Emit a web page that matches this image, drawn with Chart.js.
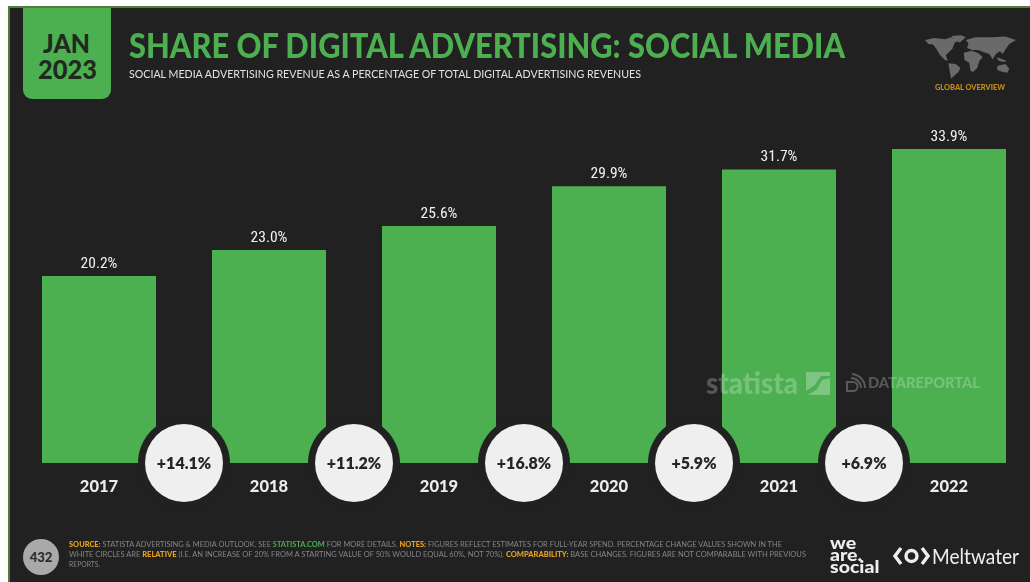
<!DOCTYPE html>
<html>
<head>
<meta charset="utf-8">
<script src="https://cdn.jsdelivr.net/npm/chart.js@4"></script>
<style>
  html, body { margin: 0; padding: 0; width: 1030px; height: 582px; overflow: hidden; background: #fff; }
  #panel { position: absolute; left: 8px; top: 6px; width: 1022px; height: 576px; box-sizing: border-box;
           background: #212121; border-top: 2px solid #4d7d3f; border-left: 2px solid #4d7d3f; }
  canvas { position: absolute; left: 0; top: 0; }
  .t { position: absolute; white-space: nowrap; transform-origin: 0 50%; font-family: Lato, sans-serif; line-height: 1; }
  #tab { position: absolute; left: 23px; top: 8px; width: 88px; height: 91px; background: #4caf50; border-radius: 0 0 9px 9px; }
  .foot { color: #858585; font-size: 7px; font-family: Lato, sans-serif; }
  .foot b { color: #e8a11f; font-weight: 900; }
  .foot i { color: #4caf50; font-style: normal; font-weight: 700; }
  #pageNo { position: absolute; left: 23px; top: 539px; width: 36px; height: 36px; border-radius: 50%; background: #a9a9a9;
            color: #2b2b2b; font: 900 13px/36px Lato, sans-serif; text-align: center; }
  svg { position: absolute; }
</style>
</head>
<body>
<div id="panel"></div>
<canvas id="chart" width="1040" height="582"></canvas>

<div id="tab"></div>
<div class="t" data-w="47" style="left:43px;top:30px;font-size:26px;font-weight:900;color:#1f2a1f">JAN</div>
<div class="t" data-w="59" style="left:38px;top:55px;font-size:27px;font-weight:900;color:#1f2a1f">2023</div>
<div class="t" data-w="716" style="left:129px;top:28px;font-size:34px;font-weight:900;color:#4caf50">SHARE OF DIGITAL ADVERTISING: SOCIAL MEDIA</div>
<div class="t" data-w="512" style="left:129px;top:68px;font-size:11.5px;color:#e2e2e2">SOCIAL MEDIA ADVERTISING REVENUE AS A PERCENTAGE OF TOTAL DIGITAL ADVERTISING REVENUES</div>

<!-- world map emblem -->
<svg style="left:925px;top:35px" width="91" height="44" viewBox="0 0 272 130" fill="#6a6a6a">
  <path d="M0 14 L28 8 L62 12 L76 6 L98 14 L88 24 L82 40 L72 50 L62 60 L68 76 L60 74 L44 58 L34 40 L24 28 L10 26 Z"/>
  <path d="M78 2 L108 0 L122 6 L104 22 L92 18 Z"/>
  <path d="M70 84 L92 86 L106 98 L100 110 L88 120 L78 130 L74 108 Z"/>
  <path d="M122 14 L150 6 L200 6 L240 4 L272 14 L252 26 L242 40 L232 56 L224 48 L212 56 L202 72 L192 56 L174 50 L158 44 L140 44 L126 38 L130 24 Z"/>
  <path d="M116 52 L140 46 L160 54 L172 66 L162 78 L156 98 L144 110 L136 106 L132 82 L118 74 Z"/>
  <path d="M216 92 L240 86 L252 100 L246 112 L228 108 L216 104 Z"/>
  <path d="M214 66 L244 76 L236 80 L220 76 Z"/>
</svg>
<div class="t" data-w="70" style="left:935px;top:84px;font-size:7px;font-weight:900;color:#c98a1b">GLOBAL OVERVIEW</div>

<!-- source watermarks, laid over the bars -->
<div class="t" data-w="92" style="left:706px;top:367px;font-size:31px;font-weight:900;color:rgba(255,255,255,.24)">statista</div>
<svg style="left:806px;top:372px" width="24" height="23" viewBox="0 0 24 23">
  <path d="M0 0H24V4L15 4L9 13L0 19Z M24 6V23H2L11 17L16 8Z" fill="rgba(255,255,255,.28)"/>
</svg>
<svg style="left:845px;top:373px" width="22" height="21" viewBox="0 0 22 21" fill="none" stroke="rgba(255,255,255,.26)" stroke-width="2">
  <path d="M2 9V18H8A4.5 4.5 0 0 0 8 9Z"/><path d="M6 5A10 10 0 0 1 16 15"/><path d="M7 1A14 14 0 0 1 20 15"/>
</svg>
<div class="t" data-w="112" style="left:868px;top:375px;font-size:15px;font-weight:900;color:rgba(255,255,255,.24)">DATAREPORTAL</div>

<!-- footer -->
<div id="pageNo">432</div>
<div class="t foot" data-w="713" style="left:69px;top:541px"><b>SOURCE:</b> STATISTA ADVERTISING &amp; MEDIA OUTLOOK. SEE <i>STATISTA.COM</i> FOR MORE DETAILS. <b>NOTES:</b> FIGURES REFLECT ESTIMATES FOR FULL-YEAR SPEND. PERCENTAGE CHANGE VALUES SHOWN IN THE</div>
<div class="t foot" data-w="737" style="left:69px;top:551px">WHITE CIRCLES ARE <b>RELATIVE</b> (I.E. AN INCREASE OF 20% FROM A STARTING VALUE OF 50% WOULD EQUAL 60%, NOT 70%). <b>COMPARABILITY:</b> BASE CHANGES. FIGURES ARE NOT COMPARABLE WITH PREVIOUS</div>
<div class="t foot" data-w="31" style="left:69px;top:561px">REPORTS.</div>

<!-- partner marks -->
<div class="t" id="wes" style="left:830px;top:537px;font-size:16px;font-weight:900;color:#eee;line-height:12px;white-space:pre;transform-origin:0 0;transform:scaleX(1.22)">we
are.
social</div>
<svg style="left:893px;top:546px" width="37" height="20" viewBox="0 0 37 20" fill="none" stroke="#eee" stroke-width="3.4">
  <path d="M8 2L2 10L8 18"/><path d="M29 2L35 10L29 18"/><circle cx="18.5" cy="10" r="5.5"/>
</svg>
<div class="t" data-w="87" style="left:932px;top:545px;font-size:21px;font-weight:400;color:#eee">Meltwater</div>

<script>
const years = ['2017', '2018', '2019', '2020', '2021', '2022'];
const adShare = [20.2, 23.0, 25.6, 29.9, 31.7, 33.9];
const yoyChange = ['+14.1%', '+11.2%', '+16.8%', '+5.9%', '+6.9%'];

const PANEL = '#212121';

// Percent labels above the bars and the change badges straddling the baseline.
const annotations = {
  id: 'annotations',
  afterDatasetsDraw(chart) {
    const { ctx } = chart;
    const bars = chart.getDatasetMeta(0).data;
    const baseline = chart.scales.y.getPixelForValue(0);

    ctx.save();
    ctx.textAlign = 'center';
    ctx.textBaseline = 'alphabetic';
    ctx.fillStyle = '#f2f2f2';
    ctx.font = '400 15.5px "Liberation Sans Narrow", "Roboto Condensed", Roboto, sans-serif';
    bars.forEach((bar, i) => {
      ctx.fillText(adShare[i].toFixed(1) + '%', bar.x, bar.y - 8);
    });

    yoyChange.forEach((label, i) => {
      const x = (bars[i].x + bars[i + 1].x) / 2;
      ctx.beginPath();
      ctx.arc(x, baseline, 46, 0, Math.PI * 2);
      ctx.fillStyle = PANEL;
      ctx.fill();
      ctx.beginPath();
      ctx.arc(x, baseline, 39, 0, Math.PI * 2);
      ctx.fillStyle = '#efefef';
      ctx.fill();
      ctx.fillStyle = '#262626';
      ctx.font = '800 16px Lato, sans-serif';
      ctx.textBaseline = 'middle';
      ctx.fillText(label, x, baseline + 1);
      ctx.textBaseline = 'alphabetic';
    });
    ctx.restore();
  }
};

new Chart(document.getElementById('chart'), {
  type: 'bar',
  data: {
    labels: years,
    datasets: [{
      data: adShare,
      backgroundColor: '#4caf50',
      borderWidth: 0,
      categoryPercentage: 1,
      barPercentage: 114 / 170
    }]
  },
  options: {
    responsive: false,
    animation: false,
    layout: { padding: { left: 14, right: 6, top: 92.6, bottom: 0 } },
    plugins: { legend: { display: false }, tooltip: { enabled: false } },
    scales: {
      x: {
        grid: { display: false, drawTicks: false },
        border: { display: false },
        ticks: { color: '#ececec', font: { family: 'Lato, sans-serif', size: 16.5, weight: '900' }, padding: 14, maxRotation: 0 },
        afterFit(scale) { scale.height = 119; }
      },
      y: { display: false, min: 0, max: 40 }
    }
  },
  plugins: [annotations]
});

// Squeeze or stretch header and footer runs to their measured widths.
document.querySelectorAll('.t[data-w]').forEach(el => {
  const k = Number(el.dataset.w) / el.getBoundingClientRect().width;
  el.style.transform = 'scaleX(' + k + ')';
});
</script>
</body>
</html>
